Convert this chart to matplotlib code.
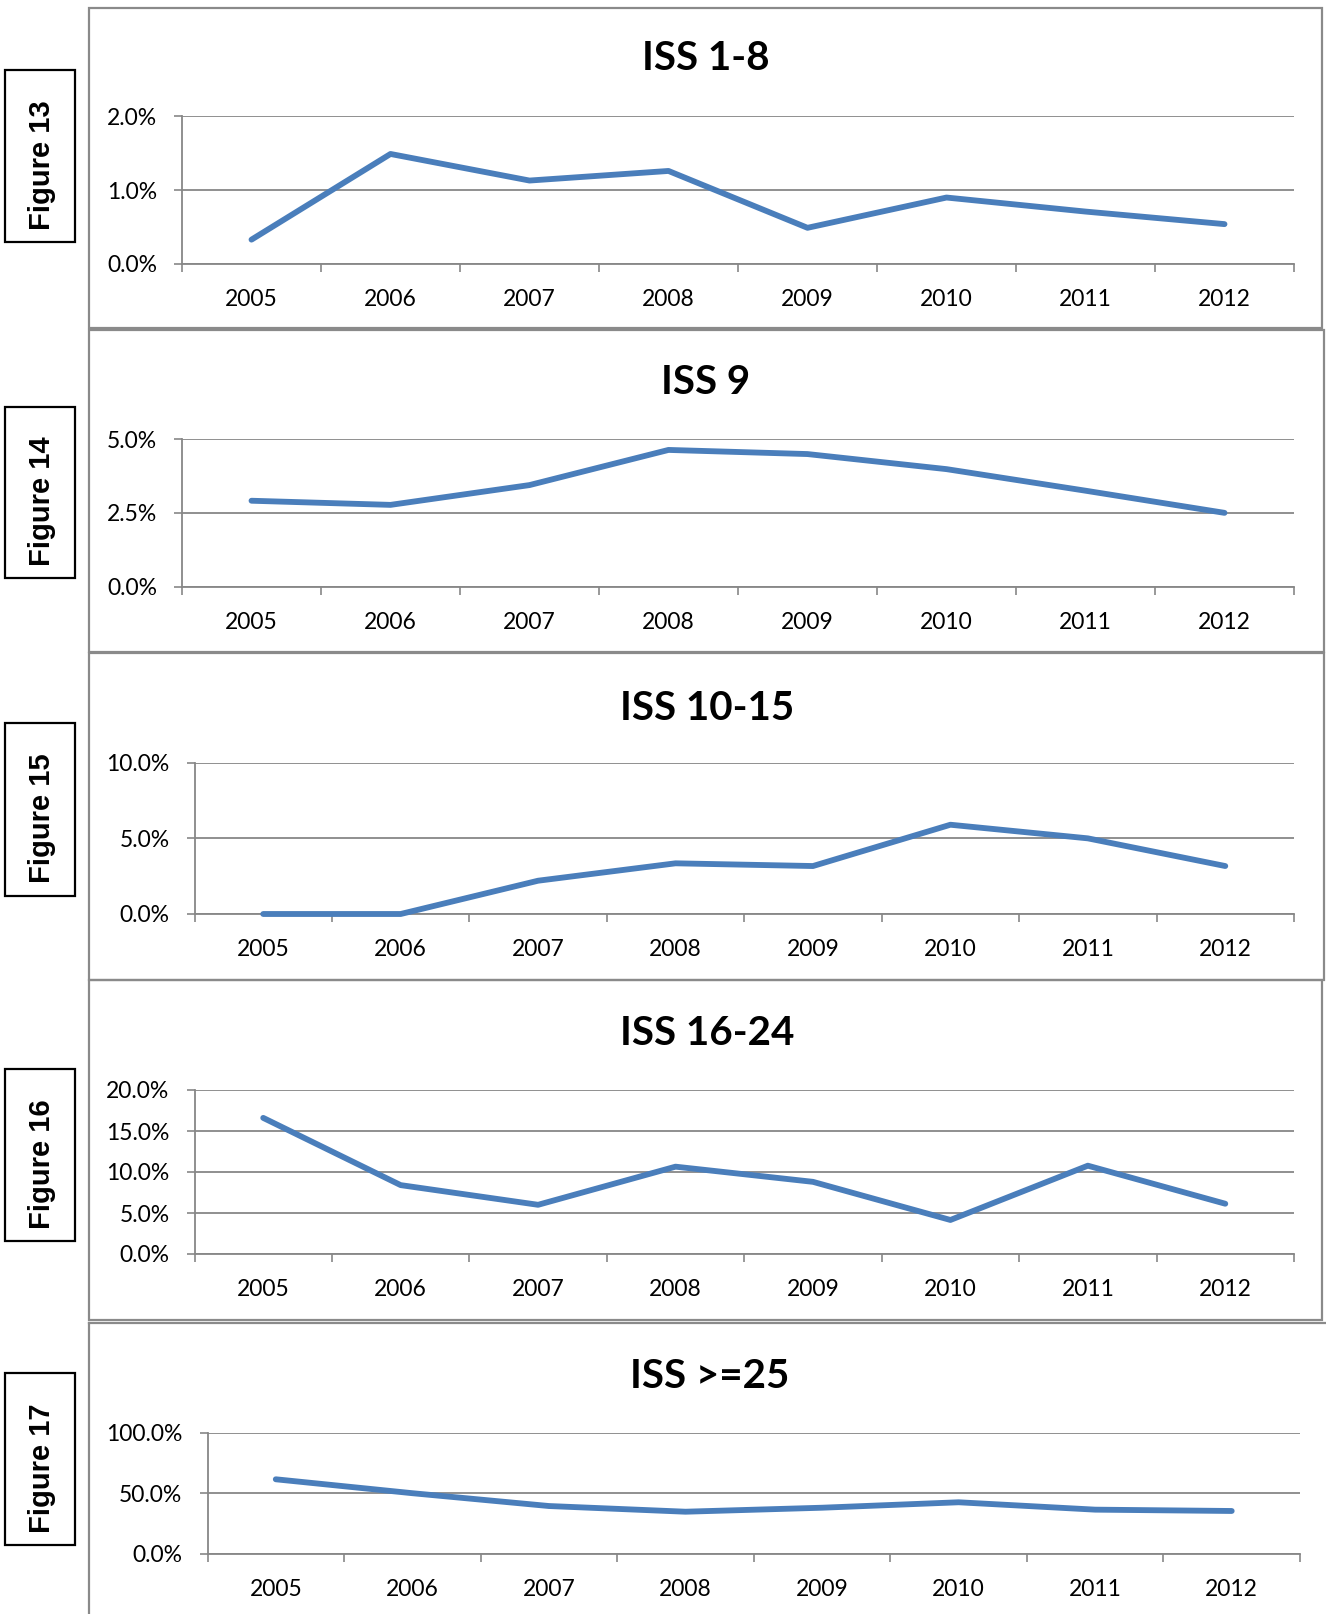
import matplotlib
matplotlib.use("Agg")
import matplotlib.pyplot as plt
from matplotlib.patches import Rectangle
from matplotlib.lines import Line2D
from matplotlib.ticker import FixedLocator, FuncFormatter

W, H = 1326, 1614
years = ['2005', '2006', '2007', '2008', '2009', '2010', '2011', '2012']
iss_1_8 = [0.33, 1.49, 1.13, 1.26, 0.49, 0.90, 0.71, 0.54]
iss_9 = [2.91, 2.77, 3.44, 4.63, 4.49, 3.98, 3.25, 2.50]
iss_10_15 = [0.0, 0.0, 2.2, 3.35, 3.17, 5.9, 5.0, 3.17]
iss_16_24 = [16.6, 8.4, 6.0, 10.65, 8.8, 4.15, 10.77, 6.13]
iss_25 = [61.5, 50.0, 39.4, 34.7, 38.0, 42.5, 36.4, 35.3]

titles = ['ISS 1-8', 'ISS 9', 'ISS 10-15', 'ISS 16-24', 'ISS >=25']
fig_labels = ['Figure 13', 'Figure 14', 'Figure 15', 'Figure 16', 'Figure 17']
series = [iss_1_8, iss_9, iss_10_15, iss_16_24, iss_25]
y_ticks = [[0, 1, 2], [0, 2.5, 5], [0, 5, 10], [0, 5, 10, 15, 20], [0, 50, 100]]

# layout in pixels (left, right, top, bottom)
axes_px = [(182, 1294, 116.3, 264), (182, 1294, 439, 586.7), (194.5, 1294, 762.7, 914),
           (194.5, 1294, 1090, 1254), (207.5, 1300, 1432.7, 1553.7)]
panel_px = [(89, 1322, 8, 328), (89, 1324, 330, 652), (89, 1324, 653, 980),
            (89, 1322, 980, 1320)]
title_px = [(706, 59), (706, 382), (707, 708), (707, 1033.5), (710, 1377)]
label_box_px = [(4.5, 74.5, 70, 242), (4.5, 74.5, 406.7, 578), (4.5, 74.5, 723, 896),
                (4.5, 74.5, 1069, 1240.7), (4.5, 74.5, 1372.7, 1545)]

grid_c = '#878787'
line_c = '#4A7EBB'
border_c = '#8a8a8a'
font = 'Lato'

fig = plt.figure(figsize=(W / 100, H / 100), dpi=100)

def fx(x):
    return x / W

def fy(y):
    return 1 - y / H

for l, r, t, b in panel_px:
    fig.add_artist(Rectangle((fx(l), fy(b)), fx(r) - fx(l), fy(t) - fy(b),
                             transform=fig.transFigure, fill=False,
                             edgecolor=border_c, linewidth=1.6))
# last panel: open to the right and bottom
fig.add_artist(Line2D([fx(89), fx(1326)], [fy(1323), fy(1323)], transform=fig.transFigure,
                      color=border_c, linewidth=1.6))
fig.add_artist(Line2D([fx(89), fx(89)], [fy(1323), fy(1614)], transform=fig.transFigure,
                      color=border_c, linewidth=1.6))

for i in range(5):
    l, r, t, b = label_box_px[i]
    fig.add_artist(Rectangle((fx(l), fy(b)), fx(r) - fx(l), fy(t) - fy(b),
                             transform=fig.transFigure, fill=False,
                             edgecolor='black', linewidth=1.6))
    fig.text(fx((l + r) / 2 + 3), fy((t + b) / 2 + 9), fig_labels[i], rotation=90,
             ha='center', va='center', fontsize=21, fontweight='bold',
             family='Liberation Sans')
    tx, ty = title_px[i]
    fig.text(fx(tx), fy(ty), titles[i], ha='center', va='center',
             fontsize=29, fontweight='bold', family=font)

    l, r, t, b = axes_px[i]
    ax = fig.add_axes([fx(l), fy(b), fx(r) - fx(l), fy(t) - fy(b)])
    x = list(range(len(years)))
    ax.plot(x, series[i], color=line_c, linewidth=4.2, solid_capstyle='round',
            solid_joinstyle='round', zorder=3, clip_on=False)
    ax.set_xlim(-0.5, len(years) - 0.5)
    ax.set_ylim(0, y_ticks[i][-1])
    ax.set_xticks(x)
    ax.set_xticklabels(years, fontsize=16.5, family=font)
    ax.xaxis.set_minor_locator(FixedLocator([k - 0.5 for k in range(len(years) + 1)]))
    ax.tick_params(axis='x', which='major', length=0, pad=18)
    ax.tick_params(axis='x', which='minor', length=6, width=1.2, color=grid_c, direction='out')
    ax.set_yticks(y_ticks[i])
    ax.yaxis.set_major_formatter(FuncFormatter(lambda v, p: f'{v:.1f}%'))
    for lab in ax.get_yticklabels():
        lab.set_fontsize(16.5)
        lab.set_family(font)
    ax.tick_params(axis='y', length=6, width=1.2, color=grid_c, pad=12)
    ax.grid(axis='y', color=grid_c, linewidth=1.3)
    ax.set_axisbelow(True)
    for s in ['top', 'right']:
        ax.spines[s].set_visible(False)
    for s in ['left', 'bottom']:
        ax.spines[s].set_color(grid_c)
        ax.spines[s].set_linewidth(1.3)
    ax.patch.set_alpha(0)

fig.savefig('out.png', dpi=100, facecolor='white')
